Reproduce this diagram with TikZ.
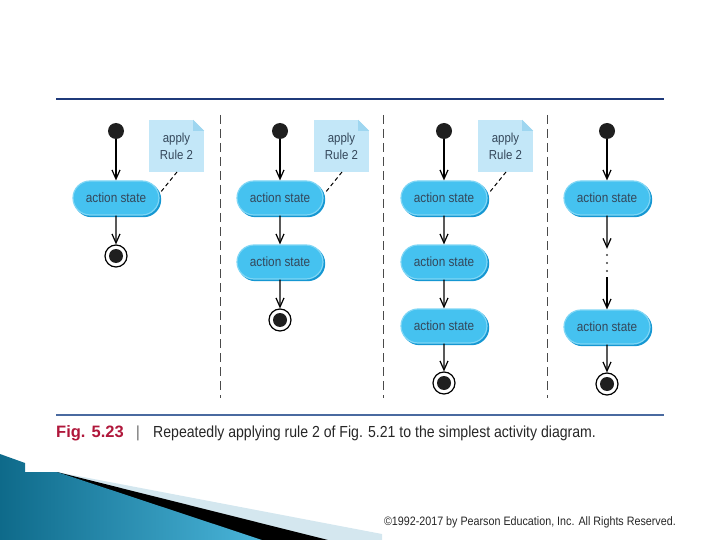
\documentclass[tikz,border=0pt]{standalone}
\usepackage{fontspec}
\setmainfont{Liberation Sans}
\newfontfamily\cond[FakeStretch=0.88]{Liberation Sans}
\usetikzlibrary{arrows.meta,shapes.misc}
\definecolor{actfill}{HTML}{45C2F0}
\definecolor{actborder}{HTML}{7FD6F5}
\definecolor{actdark}{HTML}{1597D2}
\definecolor{acttext}{HTML}{34475A}
\definecolor{notefill}{HTML}{C3E7F8}
\definecolor{notefold}{HTML}{9ED6F0}
\definecolor{divgray}{HTML}{4A4A4A}
\definecolor{topline}{HTML}{1F3A7A}
\definecolor{botline}{HTML}{4A6AA0}
\definecolor{figred}{HTML}{B0173B}
\definecolor{tealdark}{HTML}{0E6A8A}
\definecolor{teallight}{HTML}{4AB5DA}
\definecolor{paleblue}{HTML}{D4E7EF}
\begin{document}
\begin{tikzpicture}[x=1pt,y=-1pt,
  act/.style={rounded rectangle, minimum width=86pt, minimum height=34pt, fill=actfill, draw=actborder, line width=1.2pt,
    preaction={fill=actdark, draw=actdark, line width=1.2pt, transform canvas={xshift=1.6pt,yshift=-1.6pt}},
    font=\cond\fontsize{13.4}{15}\selectfont, text=acttext, inner sep=0pt},
  startdot/.style={circle, fill=black!88, minimum size=16pt, inner sep=0pt},
  final/.style={circle, draw=black, line width=1.2pt, minimum size=22pt, inner sep=0pt},
  notebox/.style={rectangle, fill=notefill, minimum width=55pt, minimum height=52pt, inner sep=0pt, align=center, font=\cond\fontsize{13}{17}\selectfont, text=acttext},
  flow/.style={-{Straight Barb[length=9pt,width=8pt]}, line width=1.2pt},
  notelink/.style={line width=1pt, dash pattern=on 4pt off 3pt},
  divider/.style={line width=1pt, dash pattern=on 9pt off 5pt, draw=divgray},
]
\useasboundingbox (0,0) rectangle (720,540);

% rules
\coordinate (tl) at (56,99); \coordinate (tr) at (664,99);
\coordinate (bl) at (56,415); \coordinate (br) at (664,415);
\draw[topline, line width=2pt] (tl) -- (tr);
\draw[botline, line width=1.2pt] (bl) -- (br);

% dividers
\foreach \x/\n in {220/1,383/2,547/3}{
  \coordinate (dv\n a) at (\x,115); \coordinate (dv\n b) at (\x,398);
  \draw[divider] (dv\n a) -- (dv\n b);
}

% notes
\foreach \x/\n in {176.5/1,341.5/2,505.5/3}{
  \node[notebox] (note\n) at (\x,146) {apply\\Rule 2};
  \fill[white] ([xshift=-11pt]note\n.north east) -- (note\n.north east) -- ([yshift=-11pt]note\n.north east) -- cycle;
  \fill[notefold] ([xshift=-11pt]note\n.north east) -- ([yshift=-11pt]note\n.north east) -- ([xshift=-11pt,yshift=-11pt]note\n.north east) -- cycle;
}

% column 1
\node[startdot] (s1) at (116,131) {};
\node[act] (a11) at (116,198) {action state};
\node[final] (f1) at (116,256) {};
\fill[black!88] (f1.center) circle (7pt);
\draw[flow] (s1) -- (a11);
\draw[flow] (a11) -- (f1);

% column 2
\node[startdot] (s2) at (280,131) {};
\node[act] (a21) at (280,198) {action state};
\node[act] (a22) at (280,262) {action state};
\node[final] (f2) at (280,320) {};
\fill[black!88] (f2.center) circle (7pt);
\draw[flow] (s2) -- (a21);
\draw[flow] (a21) -- (a22);
\draw[flow] (a22) -- (f2);

% column 3
\node[startdot] (s3) at (444,131) {};
\node[act] (a31) at (444,198) {action state};
\node[act] (a32) at (444,262) {action state};
\node[act] (a33) at (444,326) {action state};
\node[final] (f3) at (444,383) {};
\fill[black!88] (f3.center) circle (7pt);
\draw[flow] (s3) -- (a31);
\draw[flow] (a31) -- (a32);
\draw[flow] (a32) -- (a33);
\draw[flow] (a33) -- (f3);

% note links
\coordinate (k1a) at (177,172); \coordinate (k1b) at (160,193);
\coordinate (k2a) at (342,172); \coordinate (k2b) at (325,193);
\coordinate (k3a) at (506,172); \coordinate (k3b) at (489,193);
\draw[notelink] (k1a) -- (k1b);
\draw[notelink] (k2a) -- (k2b);
\draw[notelink] (k3a) -- (k3b);

% column 4
\node[startdot] (s4) at (607,131) {};
\node[act] (a41) at (607,198) {action state};
\node[minimum width=4pt, minimum height=28pt, inner sep=0pt] (ell) at (607,263) {};
\fill[black!75] ([yshift=8pt]ell.center) circle (1.2pt) (ell.center) circle (1.2pt) ([yshift=-8pt]ell.center) circle (1.2pt);
\node[act] (a42) at (607,327) {action state};
\node[final] (f4) at (607,384) {};
\fill[black!88] (f4.center) circle (7pt);
\draw[flow] (s4) -- (a41);
\draw[flow] (a41) -- (ell);
\draw[flow] (ell) -- (a42);
\draw[flow] (a42) -- (f4);

% caption
\node[anchor=west, inner sep=0pt, text=figred, font=\bfseries\fontsize{16.5}{19}\selectfont] (fig) at (56,433) {Fig. 5.23};
\node[inner sep=0pt, text=black!55, font=\fontsize{16}{19}\selectfont] (bar) at (138,433) {|};
\node[anchor=west, inner sep=0pt, text=black!85, font=\cond\fontsize{16}{19}\selectfont] (cap) at (153,433) {Repeatedly applying rule 2 of Fig. 5.21 to the simplest activity diagram.};

% decoration
\fill[paleblue] (57,472) -- (382,534) -- (382,540) -- (0,540) -- cycle;
\fill[black] (57,472) -- (328,540) -- (0,540) -- cycle;
\shade[left color=tealdark, right color=teallight] (0,454) -- (25,463) -- (25,472) -- (57,472) -- (262,540) -- (0,540) -- cycle;

% copyright
\node[anchor=east, inner sep=0pt, text=black!85, font=\cond\fontsize{12.2}{14}\selectfont] (copy) at (676,522) {©1992-2017 by Pearson Education, Inc. All Rights Reserved.};
\end{tikzpicture}
\end{document}
